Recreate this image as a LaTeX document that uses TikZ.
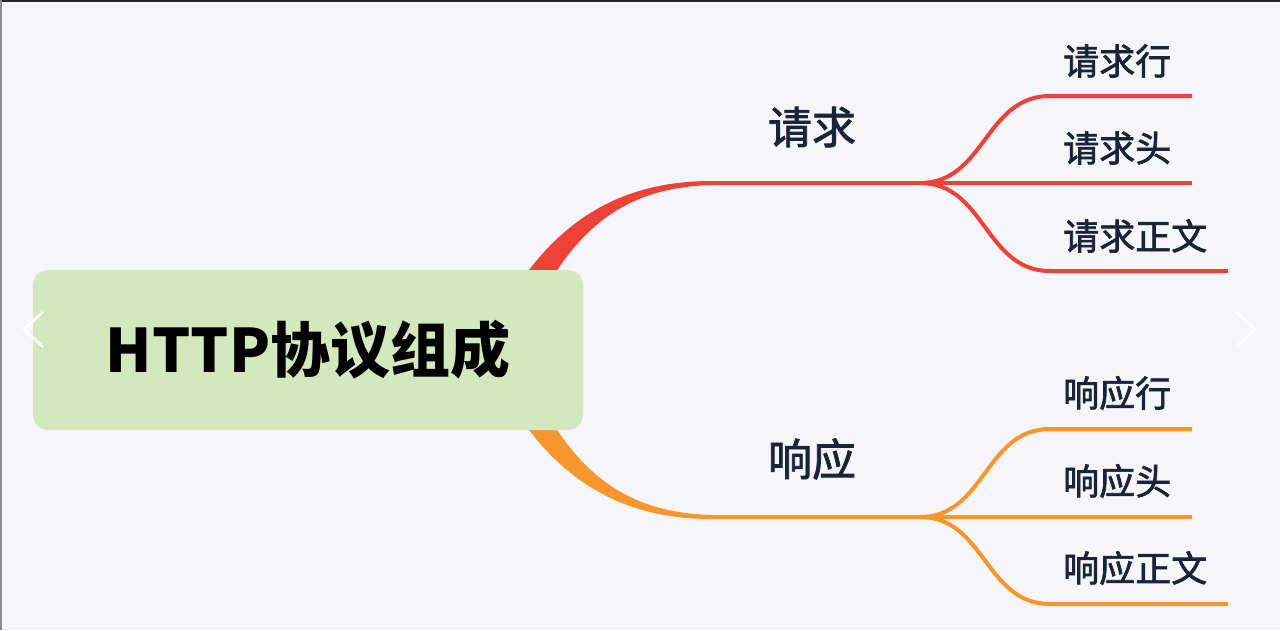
\documentclass[tikz,border=0pt]{standalone}
\usepackage{fontspec}
\setmainfont{Noto Sans CJK SC}
\newfontfamily\labfont{Noto Sans CJK SC}[FakeBold=1.8]
\definecolor{bgc}{RGB}{245,245,250}
\definecolor{rootc}{RGB}{211,232,189}
\definecolor{reqc}{RGB}{238,66,56}
\definecolor{respc}{RGB}{247,149,47}
\definecolor{txtc}{RGB}{27,35,56}
\begin{document}
\begin{tikzpicture}[x=1pt,y=-1pt,
  twig/.style={line width=4pt},
  leaf/.style={txtc,anchor=west,inner sep=0pt,font=\labfont\fontsize{36}{40}\selectfont},
  topic/.style={txtc,inner sep=0pt,font=\labfont\fontsize{44}{48}\selectfont}]
  \fill[bgc] (0,0) rectangle (1280,630);
  \fill[black!85] (0,0) rectangle (1280,2);
  \fill[black!45] (0,0) rectangle (1.5,630);
  % thick tapered branches, partly hidden by the root box
  \coordinate (reqM) at (712,183);
  \coordinate (respM) at (712,517);
  \fill[reqc] (515,290) .. controls (570,205) and (640,181) .. (712,181)
    -- (712,185) .. controls (645,187) and (590,210) .. (545,290) -- cycle;
  \fill[respc] (515,410) .. controls (570,495) and (640,519) .. (712,519)
    -- (712,515) .. controls (645,513) and (590,490) .. (545,410) -- cycle;
  \node[fill=rootc,rounded corners=15pt,minimum width=550pt,minimum height=160pt,
    font=\bfseries\fontsize{60}{64}\selectfont] (root) at (308,350) {HTTP协议组成};
  \node[topic] (req) at (812,127) {请求};
  \node[topic] (resp) at (812,459) {响应};
  \coordinate (reqJ) at (920,183);
  \coordinate (respJ) at (920,517);
  \draw[twig,reqc] (reqM) -- (reqJ);
  \draw[twig,respc] (respM) -- (respJ);
  \foreach \i/\y/\e/\t in {1/96/1192/请求行,2/183/1192/请求头,3/271/1228/请求正文} {
    \coordinate (reqE\i) at (\e,\y);
    \draw[twig,reqc] (reqJ) .. controls +(65,0) and (985,\y) .. (1050,\y) -- (reqE\i);
    \node[leaf] (req\i) at (1063,\y-35) {\t};
  }
  \foreach \i/\y/\e/\t in {1/429/1192/响应行,2/517/1192/响应头,3/604/1228/响应正文} {
    \coordinate (respE\i) at (\e,\y);
    \draw[twig,respc] (respJ) .. controls +(65,0) and (985,\y) .. (1050,\y) -- (respE\i);
    \node[leaf] (resp\i) at (1063,\y-36) {\t};
  }
  % carousel arrows
  \draw[white,line width=2.5pt] (43,312) -- (24,329) -- (43,347);
  \draw[white,line width=2.5pt] (1236,312) -- (1255,329) -- (1236,347);
\end{tikzpicture}
\end{document}
